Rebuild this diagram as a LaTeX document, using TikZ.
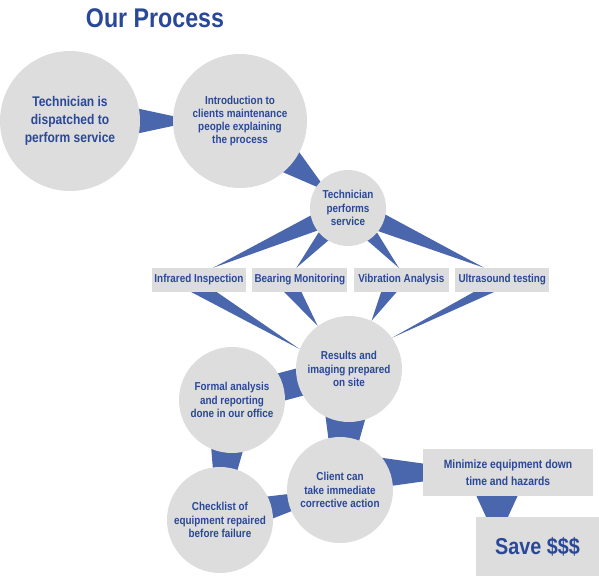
\documentclass[tikz,border=0pt]{standalone}
\usepackage{fontspec}
\setmainfont{Liberation Sans}[FakeStretch=0.86]
\usetikzlibrary{positioning,calc,backgrounds}

\definecolor{procblue}{RGB}{42,72,152}
\definecolor{linkblue}{RGB}{74,102,172}
\definecolor{procgray}{RGB}{221,221,221}

% tapered link: from, to, half width at from, half width at to
\newcommand{\taper}[4]{%
  \fill[linkblue] ($(#1)!#3pt!90:(#2)$) -- ($(#1)!#3pt!-90:(#2)$)
    -- ($(#2)!#4pt!90:(#1)$) -- ($(#2)!#4pt!-90:(#1)$) -- cycle;}

\begin{document}
\begin{tikzpicture}[x=1pt,y=-1pt,
            every node/.style={text=procblue,align=center},
            stage/.style={circle,fill=procgray,inner sep=0pt,minimum size=106pt,font=\bfseries\fontsize{11.5}{13.3}\selectfont},
            tagbox/.style={rectangle,fill=procgray,minimum width=94pt,minimum height=24pt,inner sep=0pt,font=\bfseries\fontsize{11.5}{13}\selectfont},
            goalbox/.style={rectangle,fill=procgray,inner sep=0pt}
          ]
          \useasboundingbox (0,0) rectangle (599,576);

          \node[font=\bfseries\fontsize{27}{30}\selectfont,anchor=base] (title) at (155,27) {Our Process};

          %circles
          \node[stage,minimum size=140pt,font=\bfseries\fontsize{14}{18}\selectfont] (dispatch) at (70,121) {Technician is\\dispatched to\\perform service};
          \node[stage,minimum size=134pt] (intro) at (240,121) {Introduction to\\clients maintenance\\people explaining\\the process};
          \node[stage,minimum size=76pt] (tech) at (348,208) {Technician\\performs\\service};
          \node[stage] (res) at (349,369) {Results and\\imaging prepared\\on site};
          \node[stage] (formal) at (232,400) {Formal analysis\\and reporting\\done in our office};
          \node[stage] (client) at (340,490) {Client can\\take immediate\\corrective action};
          \node[stage] (check) at (220,520) {Checklist of\\equipment repaired\\before failure};

          %services
          \node[tagbox] (ir) at (199,280) {Infrared Inspection};
          \node[tagbox,right=6pt of ir,minimum width=95pt] (bm) {Bearing Monitoring};
          \node[tagbox,right=6pt of bm,minimum width=95pt] (va) {Vibration Analysis};
          \node[tagbox,right=6pt of va] (us) {Ultrasound testing};

          %results
          \node[goalbox,minimum width=170pt,minimum height=47pt,font=\bfseries\fontsize{12}{16.5}\selectfont] (mini) at (508,472.5) {Minimize equipment down\\time and hazards};
          \node[goalbox,minimum width=123pt,minimum height=59pt,font=\bfseries\fontsize{23}{26}\selectfont] (save) at (537.5,546.5) {Save \$\$\$};

          %links
          \begin{scope}[on background layer]
            \coordinate (t12) at ($(dispatch)!0.74!(intro)$);
            \coordinate (t23) at ($(intro)!0.81!(tech)$);
            \taper{dispatch}{t12}{27}{0}
            \taper{intro}{t23}{31}{0}

            \coordinate (irtop) at ($(ir.north)+(14,0)$);
            \coordinate (bmtop) at ($(bm.north)+(-3.5,0)$);
            \coordinate (vatop) at ($(va.north)+(-2.5,0)$);
            \coordinate (ustop) at ($(us.north)+(-18,0)$);
            \taper{tech}{irtop}{11}{0}
            \taper{tech}{bmtop}{12}{0}
            \taper{tech}{vatop}{12}{0}
            \taper{tech}{ustop}{12}{0}

            \coordinate (irbot) at ($(ir.center)+(-13.7,0)$);
            \coordinate (bmbot) at ($(bm.center)+(-14.5,0)$);
            \coordinate (vabot) at ($(va.center)+(-6.4,0)$);
            \coordinate (usbot) at ($(us.center)+(4.7,0)$);
            \taper{irbot}{res.158}{7.9}{0}
            \taper{bmbot}{res.126}{9.4}{0}
            \taper{vabot}{res.65}{9.4}{0}
            \taper{usbot}{res.36}{5.7}{0}

            \taper{res}{formal}{14}{14}
            \taper{res}{client}{30}{5}
            \taper{formal}{check}{25}{3}
            \taper{client}{check}{2}{18}

            \coordinate (cm) at (client.center |- mini.center);
            \taper{cm}{mini.west}{20.5}{9}
            \coordinate (ms) at ($(mini.south)+(-11,0)$);
            \coordinate (sm) at ($(save.north)+(-40.5,0)$);
            \taper{ms}{sm}{20.5}{11}
          \end{scope}
      \end{tikzpicture}
\end{document}
